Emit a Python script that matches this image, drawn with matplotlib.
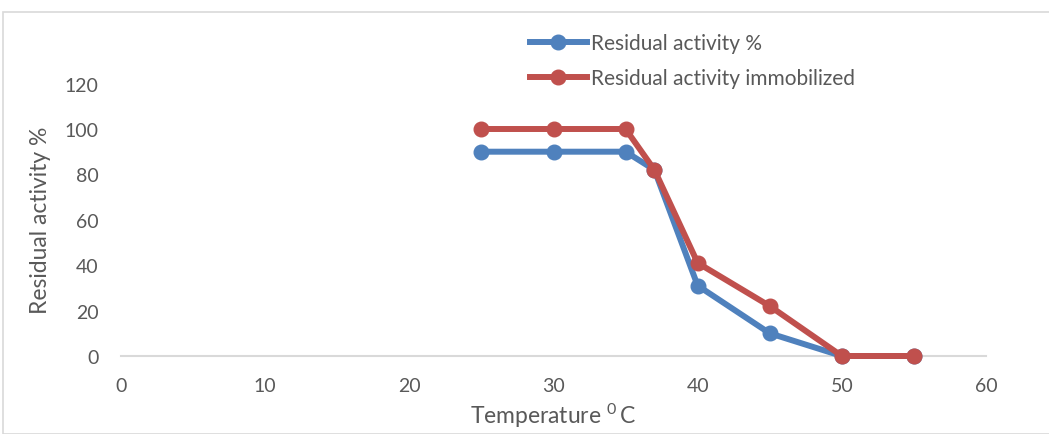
import matplotlib
matplotlib.use("Agg")
import matplotlib.pyplot as plt
from matplotlib.patches import Rectangle

temps = [25, 30, 35, 37, 40, 45, 50, 55]
free_activity = [90, 90, 90, 82, 31, 10, 0, 0]
immob_activity = [100, 100, 100, 82, 41, 22, 0, 0]
x_ticks = [0, 10, 20, 30, 40, 50, 60]
y_ticks = [0, 20, 40, 60, 80, 100, 120]

plt.rcParams['font.family'] = ['Lato', 'DejaVu Sans']
plt.rcParams['mathtext.fontset'] = 'custom'
plt.rcParams['mathtext.rm'] = 'Lato'
plt.rcParams['mathtext.it'] = 'Lato:italic'

fig = plt.figure(figsize=(10.49, 4.35), dpi=100)
ax = fig.add_axes([121/1049, 1-357/435, (986-121)/1049, (357-84.6)/435])

blue = '#4F81BD'
red = '#C0504D'
l1, = ax.plot(temps, free_activity, color=blue, lw=4.3, marker='o', ms=10.5,
              label='Residual activity %', solid_joinstyle='round')
l2, = ax.plot(temps, immob_activity, color=red, lw=4.3, marker='o', ms=10.5,
              label='Residual activity immobilized', solid_joinstyle='round')

ax.set_xlim(0, 60)
ax.set_ylim(0, 120)
ax.set_xticks(x_ticks)
ax.set_yticks(y_ticks)
for s in ['top', 'right', 'left']:
    ax.spines[s].set_visible(False)
ax.spines['bottom'].set_color('#D9D9D9')
ax.spines['bottom'].set_linewidth(1.5)
ax.spines['bottom'].set_zorder(0)
ax.tick_params(axis='both', length=0, labelsize=14, labelcolor='#595959')
ax.tick_params(axis='x', pad=15)
ax.tick_params(axis='y', pad=16)

ax.set_xlabel('Temperature $^{0}\\,$C', fontsize=16.5, color='#595959', labelpad=5)
ax.set_ylabel('Residual activity %', fontsize=16.5, color='#595959', labelpad=10)

for l in (l1, l2):
    l.set_clip_on(False)

leg = fig.legend(handles=[l1, l2], loc='upper left', bbox_to_anchor=(522/1049, 1-26/435),
                 frameon=False, fontsize=15, labelcolor='#595959', handlelength=2.7,
                 handletextpad=0.2, labelspacing=0.72, borderaxespad=0)

fig.patches.append(Rectangle((3/1049, 0), 1.2, 1-13/435, transform=fig.transFigure,
                             fill=False, edgecolor='#D9D9D9', lw=1.2))

fig.savefig('out.png', dpi=100)
